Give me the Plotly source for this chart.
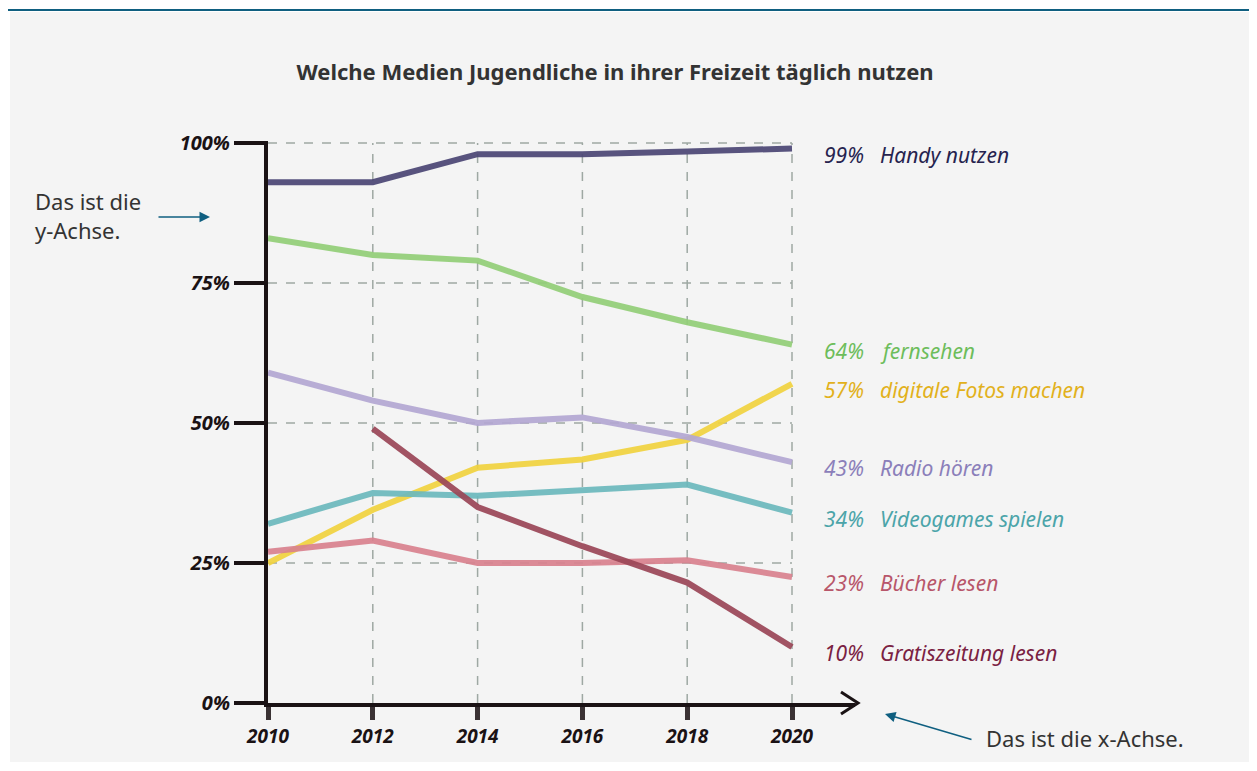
import plotly.graph_objects as go

# ---------------- data ----------------
years = [2010, 2012, 2014, 2016, 2018, 2020]
handy = [93, 93, 98, 98, 98.5, 99]
fernsehen = [83, 80, 79, 72.5, 68, 64]
fotos = [25, 34.5, 42, 43.5, 47, 57]
radio = [59, 54, 50, 51, 47.5, 43]
videogames = [32, 37.5, 37, 38, 39, 34]
buecher = [27, 29, 25, 25, 25.5, 22.5]
gratis = [None, 49, 35, 28, 21.5, 10]

series_names = ["Handy nutzen", "fernsehen", "digitale Fotos machen", "Radio hören",
                "Videogames spielen", "Bücher lesen", "Gratiszeitung lesen"]
series_values = [handy, fernsehen, fotos, radio, videogames, buecher, gratis]
series_pct = ["99%", "64%", "57%", "43%", "34%", "23%", "10%"]
line_colors = ["#4b4675", "#93cf78", "#f1d33f", "#b3a7d3", "#6cb9bd", "#d9828f", "#9b4657"]
label_colors = ["#26234f", "#6dbd5b", "#e2b11c", "#8b7fba", "#4ba4a9", "#b8566a", "#7a2142"]

y_ticks = [0, 25, 50, 75, 100]
y_ticktext = ["0%", "25%", "50%", "75%", "100%"]
x_ticks = years
x_ticktext = [str(y) for y in years]

title_text = "Welche Medien Jugendliche in ihrer Freizeit täglich nutzen"

# ---------------- geometry (reference page pixels) ----------------
OFF = 8                      # page body margin
W, H = 1257 - OFF, 771 - OFF
L, R_EDGE = 268, 855         # plot area left/right px (page)
T, B_EDGE = 141, 703         # plot area top/bottom px (page)
PX_PER_YEAR = 52.4
PX_PER_PCT = 5.6

x_range = [2010, 2010 + (R_EDGE - L) / PX_PER_YEAR]
y_range = [0, (B_EDGE - T) / PX_PER_PCT]


def px(xp):
    return (xp - L) / (R_EDGE - L)


def py(yp):
    return (B_EDGE - yp) / (B_EDGE - T)


hand_font = "Noto Sans"
ink = "#1a1214"
blue = "#0f5f80"

fig = go.Figure()

for name, vals, col in zip(series_names, series_values, line_colors):
    fig.add_trace(go.Scatter(
        x=years, y=vals, mode="lines", name=name,
        line=dict(color=col, width=6), opacity=0.92,
        connectgaps=False, showlegend=False, hoverinfo="x+y+name",
    ))

shapes = []
# background panel and top rule
shapes.append(dict(type="rect", xref="paper", yref="paper", x0=px(10), x1=px(1265),
                   y0=py(762), y1=py(12), fillcolor="#f4f4f4", line=dict(width=0), layer="below"))
shapes.append(dict(type="line", xref="paper", yref="paper", x0=px(4), x1=px(1265),
                   y0=py(10), y1=py(10), line=dict(color=blue, width=2), layer="below"))

# dashed grid
grid_col = "#9ea8a3"
for yv in y_ticks[1:]:
    shapes.append(dict(type="line", xref="x", yref="y", x0=years[0], x1=years[-1], y0=yv, y1=yv,
                       line=dict(color=grid_col, width=1.5, dash="dash"), layer="below"))
for xv in x_ticks[1:]:
    shapes.append(dict(type="line", xref="x", yref="y", x0=xv, x1=xv, y0=0, y1=100,
                       line=dict(color=grid_col, width=1.5, dash="dash"), layer="below"))

# arrow head of x axis
shapes.append(dict(type="path", xref="paper", yref="paper",
                   path=f"M {px(841)},{py(692)} L {px(858)},{py(703)} L {px(841)},{py(714)}",
                   line=dict(color=ink, width=3)))

annotations = []
# series labels
for vals, pct, name, col in zip(series_values, series_pct, series_names, label_colors):
    yv = vals[-1]
    annotations.append(dict(x=years[-1], y=yv, xref="x", yref="y", text=pct, showarrow=False,
                            xanchor="left", yanchor="middle", xshift=30, yshift=-6,
                            font=dict(family=hand_font, size=21, color=col, style="italic")))
    annotations.append(dict(x=years[-1], y=yv, xref="x", yref="y", text=name, showarrow=False,
                            xanchor="left", yanchor="middle", xshift=86, yshift=-6,
                            font=dict(family=hand_font, size=21, color=col, style="italic")))

# explanatory notes
annotations.append(dict(x=px(33), y=py(216), xref="paper", yref="paper",
                        text="Das ist die<br>y-Achse.", showarrow=False, align="left",
                        xanchor="left", yanchor="middle",
                        font=dict(family="Noto Sans", size=22, color="#333333")))
annotations.append(dict(x=px(210), y=py(217), xref="paper", yref="paper", text="",
                        showarrow=True, ax=-53, ay=0, arrowhead=2, arrowsize=1.4,
                        arrowwidth=1.5, arrowcolor=blue))
annotations.append(dict(x=px(984), y=py(738), xref="paper", yref="paper",
                        text="Das ist die x-Achse.", showarrow=False,
                        xanchor="left", yanchor="middle",
                        font=dict(family="Noto Sans", size=22, color="#333333")))
annotations.append(dict(x=px(885), y=py(714), xref="paper", yref="paper", text="",
                        showarrow=True, ax=88, ay=26, arrowhead=2, arrowsize=1.4,
                        arrowwidth=1.5, arrowcolor=blue))

fig.update_layout(
    width=W, height=H,
    margin=dict(l=L - OFF, r=W - (R_EDGE - OFF), t=T - OFF, b=H - (B_EDGE - OFF), pad=0),
    paper_bgcolor="white", plot_bgcolor="rgba(0,0,0,0)",
    title=dict(text=title_text, x=px(615), xanchor="center", y=1 - (72 - OFF) / H,
               yanchor="middle", xref="paper",
               font=dict(family="Noto Sans", size=22, color="#333333", weight="bold")),
    shapes=shapes, annotations=annotations, showlegend=False,
    xaxis=dict(range=x_range, tickvals=x_ticks, ticktext=x_ticktext, showgrid=False,
               zeroline=False, showline=True, linewidth=4, linecolor=ink,
               ticks="outside", ticklen=13, tickwidth=5, tickcolor="#3a3234",
               tickfont=dict(family=hand_font, size=19, color=ink, style="italic", weight="bold")),
    yaxis=dict(range=y_range, tickvals=y_ticks, ticktext=y_ticktext, showgrid=False,
               zeroline=False, showline=True, linewidth=4, linecolor=ink,
               ticks="outside", ticklen=30, tickwidth=4, tickcolor=ink,
               tickfont=dict(family=hand_font, size=20, color=ink, style="italic", weight="bold")),
)

fig.write_html("out.html")
